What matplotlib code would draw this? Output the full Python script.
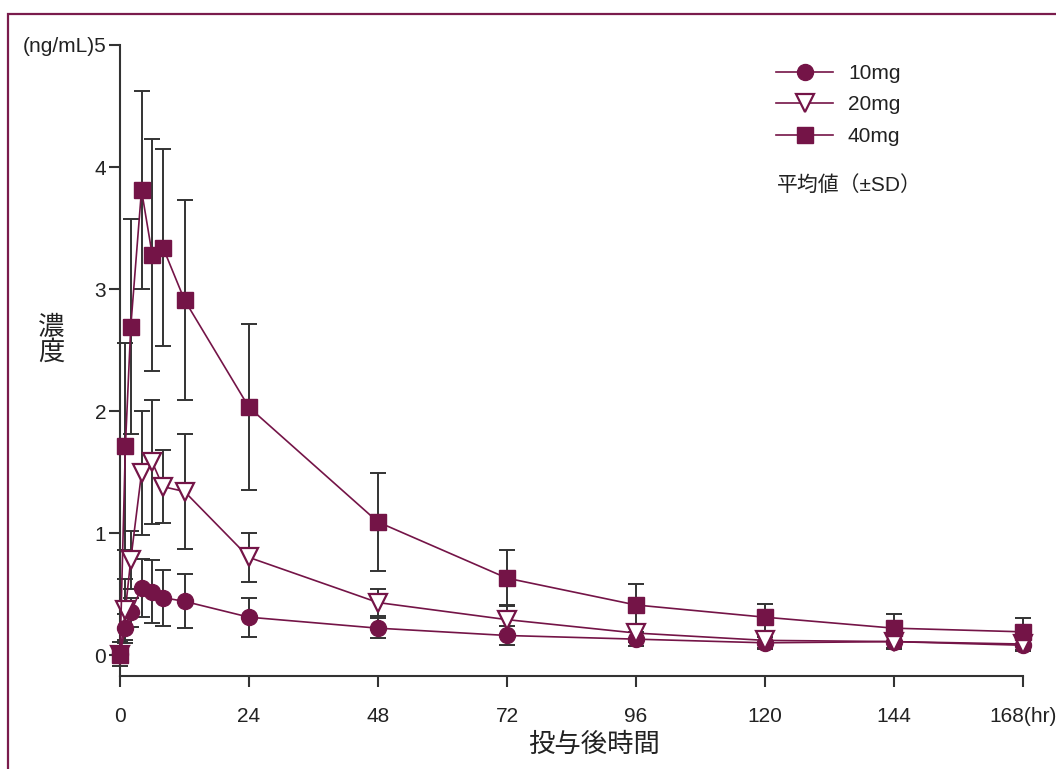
import matplotlib
matplotlib.use("Agg")
import matplotlib.pyplot as plt
from matplotlib.lines import Line2D
from matplotlib.patches import Rectangle

plt.rcParams['font.family'] = ['Liberation Sans', 'Noto Sans CJK JP', 'DejaVu Sans']

hours = [0, 1, 2, 4, 6, 8, 12, 24, 48, 72, 96, 120, 144, 168]
mean_10 = [0.01, 0.22, 0.35, 0.55, 0.52, 0.47, 0.44, 0.31, 0.22, 0.16, 0.13, 0.10, 0.11, 0.08]
sd_10 = [0.10, 0.12, 0.12, 0.24, 0.26, 0.23, 0.22, 0.16, 0.08, 0.08, 0.06, 0.05, 0.05, 0.05]
mean_20 = [0.0, 0.37, 0.78, 1.49, 1.58, 1.38, 1.34, 0.80, 0.43, 0.29, 0.18, 0.12, 0.11, 0.09]
sd_20 = [0.0, 0.25, 0.24, 0.51, 0.51, 0.30, 0.47, 0.20, 0.11, 0.12, 0.07, 0.06, 0.06, 0.05]
mean_40 = [0.0, 1.71, 2.69, 3.81, 3.28, 3.34, 2.91, 2.03, 1.09, 0.63, 0.41, 0.31, 0.22, 0.19]
sd_40 = [0.0, 0.85, 0.88, 0.81, 0.95, 0.81, 0.82, 0.68, 0.40, 0.23, 0.17, 0.11, 0.12, 0.11]

series_labels = ['10mg', '20mg', '40mg']
x_ticks = [0, 24, 48, 72, 96, 120, 144, 168]
x_ticklabels = ['0', '24', '48', '72', '96', '120', '144', '168(hr)']
y_ticks = [0, 1, 2, 3, 4, 5]
y_ticklabels = ['0', '1', '2', '3', '4', '(ng/mL)5']

MAROON = '#741447'
GRAY = '#333333'
TXT = '#222222'

fig = plt.figure(figsize=(10.56, 7.69), dpi=100)
ax = fig.add_axes([120/1056, 1 - 676/769, 903/1056, 631/769])

# border
fig.patches.append(Rectangle((8/1056, -0.1), 1.2, (769 - 14)/769 + 0.1, transform=fig.transFigure,
                             fill=False, edgecolor='#7a1c4c', linewidth=1.6, zorder=0))

styles = [
    dict(marker='o', markersize=11.5, markerfacecolor=MAROON, markeredgecolor=MAROON, markeredgewidth=1),
    dict(marker='v', markersize=13, markerfacecolor='white', markeredgecolor=MAROON, markeredgewidth=1.6),
    dict(marker='s', markersize=11, markerfacecolor=MAROON, markeredgecolor=MAROON, markeredgewidth=1),
]
means = [mean_10, mean_20, mean_40]
sds = [sd_10, sd_20, sd_40]

for m, s in zip(means, sds):
    ax.errorbar(hours, m, yerr=s, fmt='none', ecolor=GRAY, elinewidth=1.4, capsize=6,
                capthick=1.4, zorder=2, clip_on=False)
for m, st in zip(means, styles):
    ax.plot(hours, m, color=MAROON, linewidth=1.2, zorder=3, clip_on=False, **st)

ax.set_xlim(0, 168)
ax.set_ylim(-0.172, 5)
ax.set_xticks(x_ticks)
ax.set_xticklabels(x_ticklabels)
ax.set_yticks(y_ticks)
ax.set_yticklabels(y_ticklabels)

for side in ['top', 'right']:
    ax.spines[side].set_visible(False)
for side in ['left', 'bottom']:
    ax.spines[side].set_color(GRAY)
    ax.spines[side].set_linewidth(1.5)

ax.tick_params(axis='x', direction='out', length=8, width=1.5, color=GRAY, pad=14,
               labelsize=15, labelcolor=TXT)
ax.tick_params(axis='y', direction='out', length=8, width=1.5, color=GRAY, pad=2,
               labelsize=15, labelcolor=TXT)

ax.set_xlabel('投与後時間', fontsize=19, color=TXT)
ax.xaxis.set_label_coords(0.525, -0.109)
ax.xaxis.label.set_va('center')
ax.set_ylabel('濃\n度', fontsize=19, rotation=0, color=TXT, linespacing=1.05)
ax.yaxis.set_label_coords(-0.076, 0.532)
ax.yaxis.label.set_va('center')
ax.yaxis.label.set_ha('center')

handles = [Line2D([], [], color=MAROON, linewidth=1.2, **st) for st in styles]
leg = ax.legend(handles, series_labels, loc='upper left', bbox_to_anchor=(0.7265, 0.97),
                frameon=False, fontsize=15, handlelength=2.75, handletextpad=0.7,
                labelspacing=0.6, borderpad=0, borderaxespad=0)
for t in leg.get_texts():
    t.set_color(TXT)

ax.text(0.7276, 0.778, '平均値（±SD）', transform=ax.transAxes, fontsize=15,
        ha='left', va='center', color=TXT)

fig.savefig('out.png', dpi=100)
